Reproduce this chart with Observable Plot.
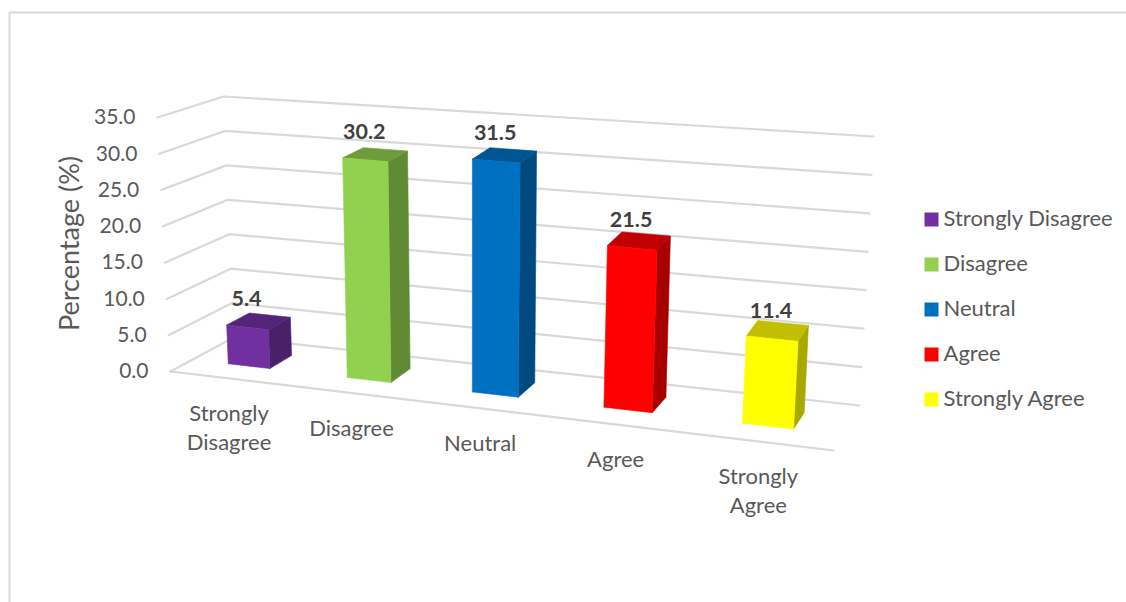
<!DOCTYPE html>
<html>
<head>
<meta charset="utf-8">
<script src="https://cdn.jsdelivr.net/npm/d3@7"></script>
<script src="https://cdn.jsdelivr.net/npm/@observablehq/plot@0.6"></script>
<style>
  html, body { margin: 0; padding: 0; background: #fff; }
  svg { display: block; }
</style>
</head>
<body>
<div id="chart"></div>
<script>
// Survey responses
const categories = ["Strongly Disagree", "Disagree", "Neutral", "Agree", "Strongly Agree"];
const axisLabels = ["Strongly\nDisagree", "Disagree", "Neutral", "Agree", "Strongly\nAgree"];
const percentages = [5.4, 30.2, 31.5, 21.5, 11.4];
const valueTicks = [0, 5, 10, 15, 20, 25, 30, 35];

// Front, side and top shades of each bar
const frontColors = ["#7030a0", "#92d050", "#0070c0", "#ff0000", "#ffff00"];
const sideColors = ["#4a2069", "#608a34", "#004a7f", "#a80000", "#a8a800"];
const topColors = ["#54247a", "#6e9c3c", "#005490", "#c00000", "#c0c000"];

const W = 1126, H = 602, maxValue = 35;

// Camera for the tilted box: screen position of its eight corners,
// indexed [right][back][top].
const corners = [
  [[[170, 371], [157, 117]], [[233, 337], [223, 96]]],
  [[[833, 450], [850, 178]], [[859, 405], [873, 136]]]
];
const foreshorten = 0.88;
const lerp = (a, b, t) => a + (b - a) * t;

// u: 0..1 along the category axis, v: value, d: 0 (front) .. 1 (back)
function project(u, v, d) {
  const t = (u * foreshorten) / (1 + (foreshorten - 1) * u);
  const h = v / maxValue;
  return [0, 1].map((i) =>
    lerp(
      lerp(
        lerp(corners[0][0][0][i], corners[0][0][1][i], h),
        lerp(corners[0][1][0][i], corners[0][1][1][i], h),
        d
      ),
      lerp(
        lerp(corners[1][0][0][i], corners[1][0][1][i], h),
        lerp(corners[1][1][0][i], corners[1][1][1][i], h),
        d
      ),
      t
    )
  );
}

const barCenter = (i) => 0.0975 + 0.2 * i;
const halfWidth = 0.0355, depthFront = 0.35, depthBack = 0.72;

const gridColor = "#d9d9d9";
const textColor = "#595959";

// Gridlines run along the left wall, then along the back wall.
const gridMarks = valueTicks.map((v) =>
  Plot.line([project(0, v, 0), project(0, v, 1), project(1, v, 1)], {
    stroke: gridColor, strokeWidth: 2.2
  })
);
const floorEdge = Plot.line([project(0, 0, 0), project(1, 0, 0)], {
  stroke: gridColor, strokeWidth: 2.2
});

const face = (pts, color) =>
  Plot.line([...pts, pts[0]], { fill: color, stroke: color, strokeWidth: 0.6 });

const barMarks = percentages.flatMap((value, i) => {
  const a = barCenter(i) - halfWidth, b = barCenter(i) + halfWidth;
  const p = (u, v, d) => project(u, v, d);
  return [
    face([p(b, 0, depthFront), p(b, 0, depthBack), p(b, value, depthBack), p(b, value, depthFront)], sideColors[i]),
    face([p(a, value, depthFront), p(b, value, depthFront), p(b, value, depthBack), p(a, value, depthBack)], topColors[i]),
    face([p(a, 0, depthFront), p(b, 0, depthFront), p(b, value, depthFront), p(a, value, depthFront)], frontColors[i])
  ];
});

const tickLabels = Plot.text(valueTicks, {
  x: (v) => project(0, v, 0)[0],
  y: (v) => project(0, v, 0)[1],
  text: (v) => v.toFixed(1),
  dx: -22, dy: 0,
  textAnchor: "end",
  fontSize: 21,
  fill: textColor
});

const valueLabels = Plot.text(percentages, {
  x: (v, i) => project(barCenter(i), v, depthFront)[0],
  y: (v, i) => project(barCenter(i), v, depthFront)[1],
  text: (v) => v.toFixed(1),
  dx: -1, dy: -28,
  fontSize: 21.5,
  fontWeight: "bold",
  fill: "#404040"
});

const categoryLabels = Plot.text(axisLabels, {
  x: (d, i) => project(barCenter(i), 0, 0)[0],
  y: (d, i) => project(barCenter(i), 0, 0)[1],
  text: (d) => d,
  dx: 1, dy: 22,
  lineAnchor: "top",
  lineHeight: 1.32,
  fontSize: 22,
  fill: textColor
});

const axisTitle = Plot.text(["Percentage (%)"], {
  x: () => 70,
  y: () => 243,
  text: (d) => d,
  rotate: -90,
  fontSize: 27,
  fill: textColor
});

// Legend column on the right
const legendRow = (i) => 219 + 45 * i;
const legendSwatches = Plot.dot(categories, {
  x: () => 931,
  y: (d, i) => legendRow(i),
  symbol: "square",
  r: 7.9,
  fill: (d, i) => frontColors[i]
});
const legendLabels = Plot.text(categories, {
  x: () => 943,
  y: (d, i) => legendRow(i),
  text: (d) => d,
  dy: -1,
  textAnchor: "start",
  fontSize: 22,
  fill: textColor
});

// Outer frame: only the top and left edges are in view.
const frame = [
  Plot.ruleY([12], { x1: 9, x2: W, stroke: gridColor, strokeWidth: 2 }),
  Plot.ruleX([9], { y1: 12, y2: H, stroke: gridColor, strokeWidth: 2 })
];

const chart = Plot.plot({
  width: W,
  height: H,
  margin: 0,
  style: { background: "#fff", fontFamily: "Lato, Carlito, sans-serif", overflow: "visible" },
  x: { domain: [0, W], range: [0, W], axis: null },
  y: { domain: [0, H], range: [0, H], axis: null },
  color: { type: "identity" },
  marks: [
    ...frame,
    ...gridMarks,
    floorEdge,
    ...barMarks,
    tickLabels,
    valueLabels,
    categoryLabels,
    axisTitle,
    legendSwatches,
    legendLabels
  ]
});
document.getElementById("chart").append(chart);
</script>
</body>
</html>
